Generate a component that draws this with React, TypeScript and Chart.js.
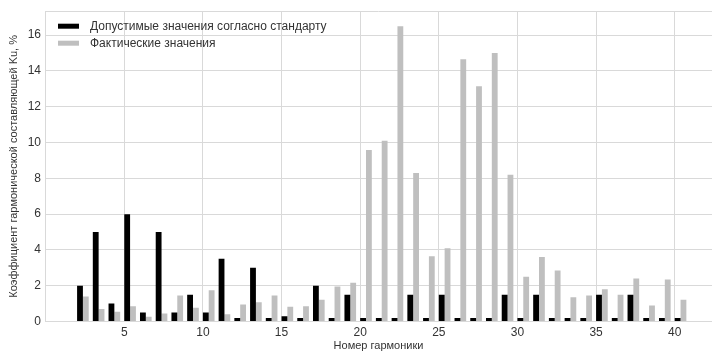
import React, { useEffect, useRef } from 'react';
import { Chart, registerables } from 'chart.js';

Chart.register(...registerables);

const harmonics = [2, 3, 4, 5, 6, 7, 8, 9, 10, 11, 12, 13, 14, 15, 16, 17, 18, 19, 20, 21, 22, 23, 24, 25, 26, 27, 28, 29, 30, 31, 32, 33, 34, 35, 36, 37, 38, 39, 40];
const permissible = [2, 5, 1, 6, 0.5, 5, 0.5, 1.5, 0.5, 3.5, 0.2, 3, 0.2, 0.3, 0.2, 2, 0.2, 1.5, 0.2, 0.2, 0.2, 1.5, 0.2, 1.5, 0.2, 0.2, 0.2, 1.5, 0.2, 1.5, 0.2, 0.2, 0.2, 1.5, 0.2, 1.5, 0.2, 0.2, 0.2];
const actual = [1.4, 0.7, 0.55, 0.85, 0.27, 0.45, 1.45, 0.77, 1.75, 0.4, 0.95, 1.07, 1.45, 0.82, 0.85, 1.22, 1.95, 2.16, 9.58, 10.1, 16.5, 8.3, 3.65, 4.1, 14.65, 13.15, 15.0, 8.2, 2.5, 3.6, 2.85, 1.35, 1.45, 1.8, 1.5, 2.4, 0.9, 2.35, 1.22];
const xTicks = [5, 10, 15, 20, 25, 30, 35, 40];
const yTicks = [0, 2, 4, 6, 8, 10, 12, 14, 16];
const seriesLabels = ['Допустимые значения согласно стандарту', 'Фактические значения'];
const xTitle = 'Номер гармоники';
const yTitle = 'Коэффициент гармонической составляющей Ku, %';

const FONT = "'Liberation Sans', Arial, sans-serif";
const TEXT = '#333333';
const GRID = '#d9d9d9';
const PAIR = 0.74;

const framePlugin = {
  id: 'frameTop',
  beforeDatasetsDraw(chart: any) {
    const { ctx, chartArea } = chart;
    ctx.save();
    ctx.strokeStyle = GRID;
    ctx.lineWidth = 1;
    ctx.beginPath();
    ctx.moveTo(chartArea.left, Math.round(chartArea.top) + 0.5);
    ctx.lineTo(chartArea.right, Math.round(chartArea.top) + 0.5);
    ctx.stroke();
    ctx.restore();
  },
};

const legendPlugin = {
  id: 'mplLegend',
  afterDraw(chart: any) {
    const { ctx, chartArea } = chart;
    ctx.save();
    chart.data.datasets.forEach((ds: any, i: number) => {
      const y = chartArea.top + 15 + i * 17;
      ctx.fillStyle = ds.backgroundColor;
      ctx.fillRect(chartArea.left + 13, y - 2.5, 21, 5);
      ctx.fillStyle = TEXT;
      ctx.font = `12px ${FONT}`;
      ctx.textBaseline = 'middle';
      ctx.textAlign = 'left';
      ctx.fillText(ds.label, chartArea.left + 45, y + 0.5);
    });
    ctx.restore();
  },
};

export default function App() {
  const ref = useRef<HTMLCanvasElement>(null);
  useEffect(() => {
    const toPoints = (vals: number[]) => harmonics.map((h, i) => ({ x: h + PAIR / 2, y: vals[i] }));
    const chart = new Chart(ref.current as HTMLCanvasElement, {
      type: 'bar',
      data: {
        datasets: [
          { label: seriesLabels[0], data: toPoints(permissible) as any, backgroundColor: '#000000', categoryPercentage: PAIR, barPercentage: 1 },
          { label: seriesLabels[1], data: toPoints(actual) as any, backgroundColor: '#bfbfbf', categoryPercentage: PAIR, barPercentage: 1 },
        ],
      },
      options: {
        animation: false,
        responsive: false,
        devicePixelRatio: 1,
        layout: { padding: { top: 5, left: 0, right: 0, bottom: 0 } },
        plugins: { legend: { display: false }, tooltip: { enabled: false } },
        scales: {
          x: {
            type: 'linear',
            min: -0.04,
            max: 42.37,
            offset: false,
            afterBuildTicks: (s: any) => { s.ticks = xTicks.map((v) => ({ value: v })); },
            afterFit: (s: any) => { s.height = 33.5; },
            grid: { color: GRID, drawTicks: false, offset: false },
            border: { color: GRID },
            ticks: { font: { family: FONT, size: 12 }, color: TEXT, padding: 4 },
            title: { display: true, text: xTitle, font: { family: FONT, size: 11 }, color: TEXT, padding: { top: 0, bottom: 2 } },
          },
          y: {
            type: 'linear',
            min: 0,
            max: 17.34,
            afterBuildTicks: (s: any) => { s.ticks = yTicks.map((v) => ({ value: v })); },
            afterFit: (s: any) => { s.width = 45; },
            grid: { color: GRID, drawTicks: false },
            border: { color: GRID },
            ticks: { font: { family: FONT, size: 12 }, color: TEXT, padding: 4 },
            title: { display: true, text: yTitle, font: { family: FONT, size: 11 }, color: TEXT, padding: { top: 7, bottom: 0 } },
          },
        },
      } as any,
      plugins: [framePlugin, legendPlugin],
    });
    return () => chart.destroy();
  }, []);
  return (
    <div style={{ position: 'absolute', left: 0, top: 0, width: 712, height: 355, background: '#fff' }}>
      <canvas ref={ref} width={712} height={355} style={{ display: 'block' }} />
    </div>
  );
}
